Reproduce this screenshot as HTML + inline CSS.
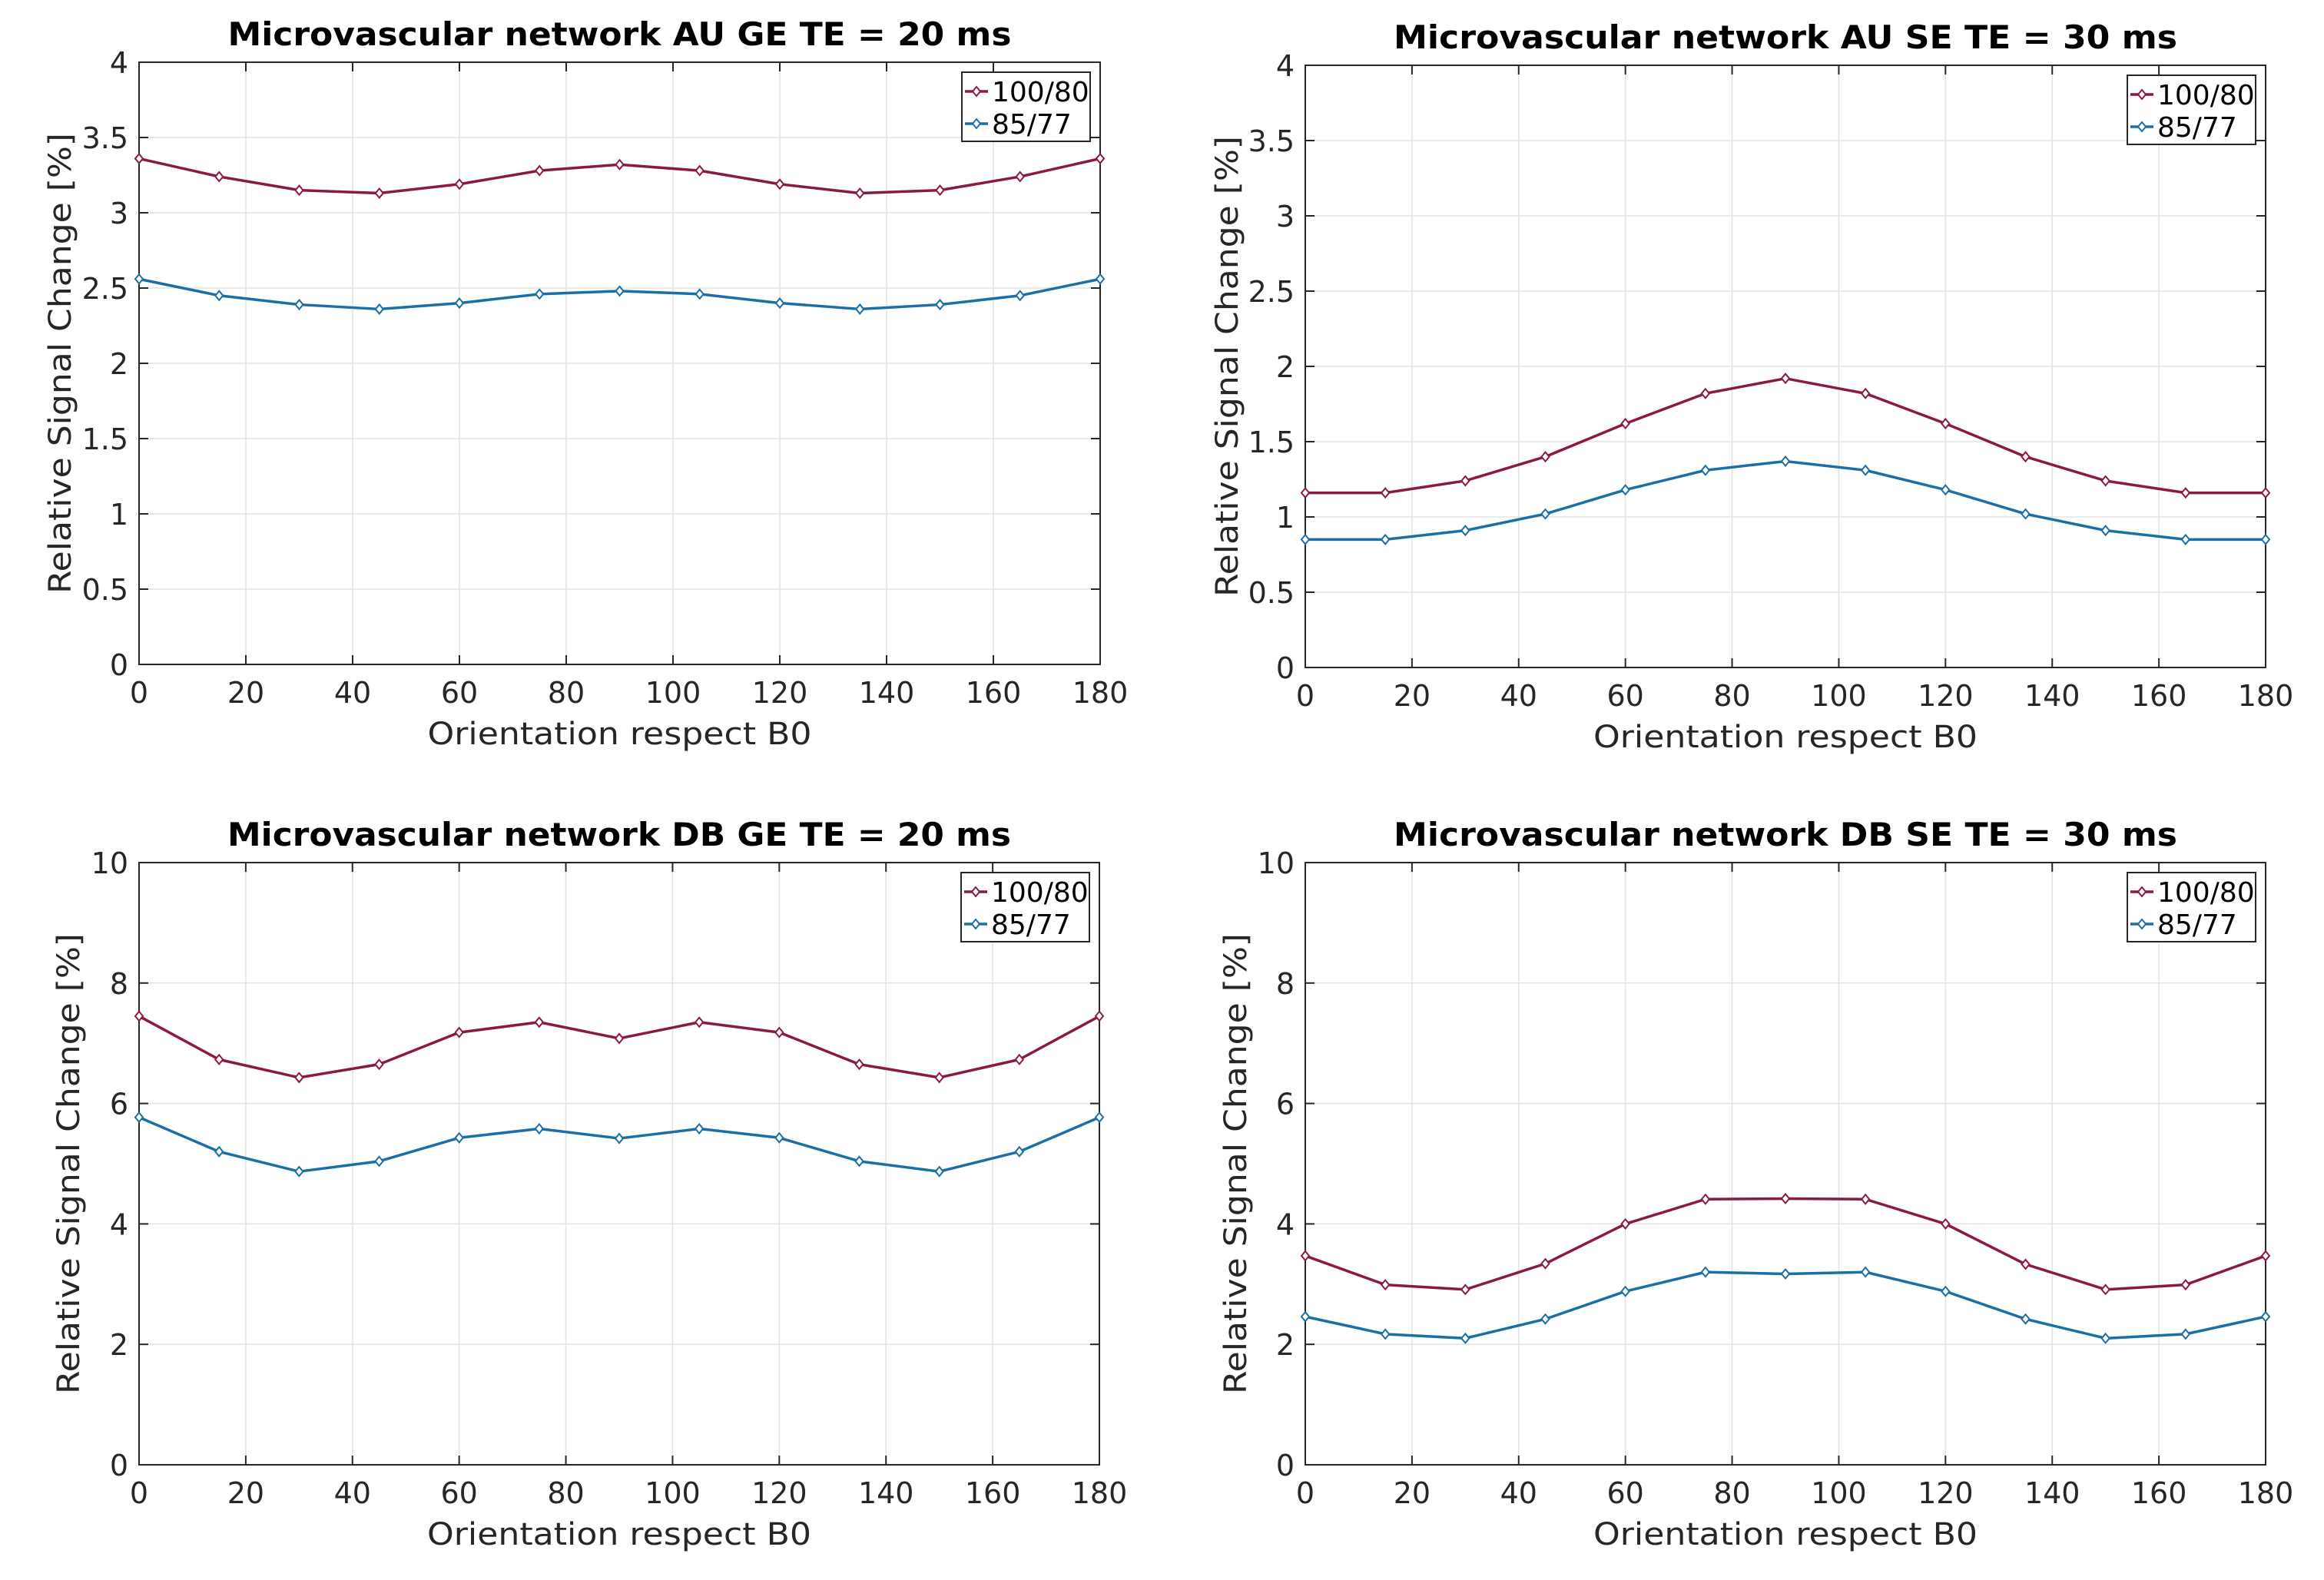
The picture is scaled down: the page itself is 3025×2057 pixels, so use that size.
<!DOCTYPE html>
<html><head><meta charset="utf-8"><style>
html,body{margin:0;padding:0;background:#fff}
svg{display:block}
text{font-family:"DejaVu Sans","Liberation Sans",sans-serif;fill:#262626}
</style></head><body>
<svg id="fig" width="3025" height="2057" viewBox="0 0 3025 2057" xmlns="http://www.w3.org/2000/svg">
<rect width="3025" height="2057" fill="#fff"/>
</svg>
<script>
const angles = [0,15,30,45,60,75,90,105,120,135,150,165,180];
const xTicks = [0,20,40,60,80,100,120,140,160,180];
const seriesNames = ["100/80","85/77"];
const auGeRed = [3.36,3.24,3.15,3.13,3.19,3.28,3.32,3.28,3.19,3.13,3.15,3.24,3.36];
const auGeBlue = [2.56,2.45,2.39,2.36,2.40,2.46,2.48,2.46,2.40,2.36,2.39,2.45,2.56];
const auSeRed = [1.16,1.16,1.24,1.40,1.62,1.82,1.92,1.82,1.62,1.40,1.24,1.16,1.16];
const auSeBlue = [0.85,0.85,0.91,1.02,1.18,1.31,1.37,1.31,1.18,1.02,0.91,0.85,0.85];
const dbGeRed = [7.45,6.73,6.43,6.65,7.18,7.35,7.08,7.35,7.18,6.65,6.43,6.73,7.45];
const dbGeBlue = [5.77,5.20,4.87,5.04,5.43,5.58,5.42,5.58,5.43,5.04,4.87,5.20,5.77];
const dbSeRed = [3.47,2.99,2.91,3.34,4.00,4.41,4.42,4.41,4.00,3.33,2.91,2.99,3.47];
const dbSeBlue = [2.46,2.17,2.10,2.42,2.88,3.20,3.17,3.20,2.88,2.42,2.10,2.17,2.46];
const yTicksAU = [0,0.5,1,1.5,2,2.5,3,3.5,4];
const yTicksDB = [0,2,4,6,8,10];
const titles = ["Microvascular network AU GE TE = 20 ms","Microvascular network AU SE TE = 30 ms","Microvascular network DB GE TE = 20 ms","Microvascular network DB SE TE = 30 ms"];

const NS="http://www.w3.org/2000/svg";
const svg=document.getElementById('fig');
function mk(tag,attrs,parent){const e=document.createElementNS(NS,tag);for(const k in attrs)e.setAttribute(k,attrs[k]);(parent||svg).appendChild(e);return e;}
const RED="#8c1a3c", BLUE="#1a6fa6";

const panels=[
 {x0:181,x1:1432,y0:81,y1:865,ticks:yTicksAU,ymax:4,red:auGeRed,blue:auGeBlue,title:titles[0],ylx:78,tag:'au-ge'},
 {x0:1699,x1:2949,y0:85,y1:869,ticks:yTicksAU,ymax:4,red:auSeRed,blue:auSeBlue,title:titles[1],ylx:1597,tag:'au-se'},
 {x0:181,x1:1431,y0:1123,y1:1907,ticks:yTicksDB,ymax:10,red:dbGeRed,blue:dbGeBlue,title:titles[2],ylx:89,tag:'db-ge'},
 {x0:1699,x1:2949,y0:1123,y1:1907,ticks:yTicksDB,ymax:10,red:dbSeRed,blue:dbSeBlue,title:titles[3],ylx:1608,tag:'db-se'}
];

panels.forEach(p=>{
 const g=mk('g',{});
 
 
 const sx=v=>p.x0+(v-0)/180*(p.x1-p.x0);
 const sy=v=>p.y1-v/p.ymax*(p.y1-p.y0);
 // grid
 xTicks.forEach(t=>{
  const l=mk('line',{x1:sx(t),x2:sx(t),y1:p.y0,y2:p.y1,stroke:'#e3e3e3','stroke-width':1.5},g);
  
  
  mk('line',{x1:sx(t),x2:sx(t),y1:p.y1,y2:p.y1-12,stroke:'#262626','stroke-width':2},g);
  mk('line',{x1:sx(t),x2:sx(t),y1:p.y0,y2:p.y0+12,stroke:'#262626','stroke-width':2},g);
  const tx=mk('text',{x:sx(t),y:p.y1+50,'font-size':38,'text-anchor':'middle'},g);
  tx.textContent=t;
  
  
 });
 p.ticks.forEach(t=>{
  const l=mk('line',{x1:p.x0,x2:p.x1,y1:sy(t),y2:sy(t),stroke:'#e3e3e3','stroke-width':1.5},g);
  
  
  mk('line',{x1:p.x0,x2:p.x0+12,y1:sy(t),y2:sy(t),stroke:'#262626','stroke-width':2},g);
  mk('line',{x1:p.x1,x2:p.x1-12,y1:sy(t),y2:sy(t),stroke:'#262626','stroke-width':2},g);
  const tx=mk('text',{x:p.x0-14,y:sy(t)+14,'font-size':38,'text-anchor':'end'},g);
  tx.textContent=t;
  
  
 });
 const box=mk('rect',{x:p.x0,y:p.y0,width:p.x1-p.x0,height:p.y1-p.y0,fill:'none',stroke:'#262626','stroke-width':2},g);
 
 
 // series
 [[p.red,RED,'series-100-80'],[p.blue,BLUE,'series-85-77']].forEach(([vals,col,nm])=>{
  const pts=vals.map((v,i)=>sx(angles[i])+','+sy(v)).join(' ');
  const pl=mk('polyline',{points:pts,fill:'none',stroke:col,'stroke-width':3.5,'stroke-linejoin':'round'},g);
  
  
  vals.forEach((v,i)=>{
   const cx=sx(angles[i]),cy=sy(v);
   const m=mk('polygon',{points:`${cx},${cy-6} ${cx+5},${cy} ${cx},${cy+6} ${cx-5},${cy}`,fill:'#fff',stroke:col,'stroke-width':2},g);
   
   
  });
 });
 // title
 const tt=mk('text',{x:(p.x0+p.x1)/2,y:p.y0-22,'font-size':42,'font-weight':'bold','text-anchor':'middle',fill:'#000',textLength:1020,lengthAdjust:'spacingAndGlyphs'},g);
 tt.style.fill='#000';
 tt.textContent=p.title;
 
 
 // x label
 const xl=mk('text',{x:(p.x0+p.x1)/2,y:p.y1+104,'font-size':40,'text-anchor':'middle',textLength:500,lengthAdjust:'spacingAndGlyphs'},g);
 xl.textContent='Orientation respect B0';
 
 
 // y label
 const yc=(p.y0+p.y1)/2;
 const yl=mk('text',{x:p.ylx+14,y:yc,'font-size':40,'text-anchor':'middle',transform:`rotate(-90 ${p.ylx+14} ${yc})`,textLength:600,lengthAdjust:'spacingAndGlyphs'},g);
 yl.textContent='Relative Signal Change [%]';
 
 
 // legend
 const lx=p.x1-13-167, ly=p.y0+13;
 const lg=mk('g',{},g);
 
 
 mk('rect',{x:lx,y:ly,width:167,height:90,fill:'#fff',stroke:'#262626','stroke-width':2},lg);
 [[RED,seriesNames[0],ly+25],[BLUE,seriesNames[1],ly+67]].forEach(([col,name,yy])=>{
  const e=mk('g',{},lg);
  
  
  mk('line',{x1:lx+4,x2:lx+34,y1:yy,y2:yy,stroke:col,'stroke-width':3.5},e);
  mk('polygon',{points:`${lx+19},${yy-6} ${lx+24},${yy} ${lx+19},${yy+6} ${lx+14},${yy}`,fill:'#fff',stroke:col,'stroke-width':2},e);
  const t=mk('text',{x:lx+39,y:yy+13,'font-size':36},e);
  t.style.fill='#000';
  t.textContent=name;
 });
});
</script>
</body></html>
